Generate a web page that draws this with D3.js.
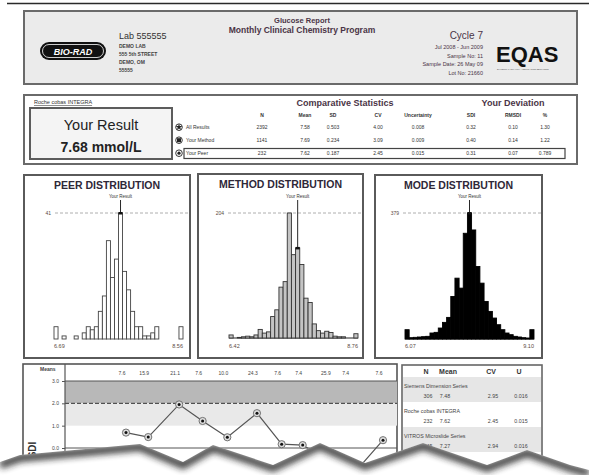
<!DOCTYPE html>
<html>
<head>
<meta charset="utf-8">
<script src="https://cdn.jsdelivr.net/npm/d3@7"></script>
<style>
body { margin: 0; background: #fff; }
svg { display: block; font-family: "Liberation Sans", Arial, sans-serif; }
</style>
</head>
<body>
<svg id="page" width="589" height="475"></svg>
<script>
// header texts
var labLines = ["DEMO LAB", "555 5th STREET", "DEMO, OM", "55555"];
var cycleLines = ["Jul 2008 - Jun 2009", "Sample No: 11", "Sample Date: 26 May 09", "Lot No: 21660"];

// comparative statistics
var statCols = ["N", "Mean", "SD", "CV", "Uncertainty", "SDI", "RMSDI", "%"];
var statRows = ["All Results", "Your Method", "Your Peer"];
var statValues = [
    ["2392", "7.58", "0.503", "4.00", "0.008", "0.32", "0.10", "1.30"],
    ["1141", "7.69", "0.234", "3.09", "0.009", "0.40", "0.14", "1.22"],
    ["232", "7.62", "0.187", "2.45", "0.015", "0.31", "0.07", "0.789"]
];

// histograms (counts per bin, first / last bins are the outlier bins)
var peerCounts = [4, 0, 1, 0, 0, 1, 0, 2, 4, 3, 4, 9, 14, 32, 20, 26, 41, 22, 16, 9, 4, 4, 1, 1, 2, 4, 0, 0, 0, 0, 0, 4];
var peerLimits = ["6.69", "8.56"];
var peerResultBin = 16;
var methodCounts = [5, 0, 1, 2, 3, 2, 5, 14, 8, 10, 35, 46, 83, 92, 204, 136, 147, 120, 65, 58, 23, 12, 8, 11, 9, 3, 2, 2, 0, 0, 7];
var methodLimits = ["6.42", "8.76"];
var methodResultBin = 16;
var modeCounts = [28, 4, 5, 6, 7, 8, 18, 20, 33, 50, 65, 128, 183, 153, 318, 379, 328, 218, 168, 113, 83, 63, 43, 28, 18, 13, 8, 6, 4, 3, 28];
var modeLimits = ["6.07", "9.10"];
var modeResultBin = 15;

// SDI history
var sampleDays = [0, 9, 21.5, 31, 41, 53, 63, 71.5, 82.5, 90.5, 104];
var sampleSdi = [0.69, 0.49, 1.95, 1.21, 0.48, 1.56, 0.17, 0.13, -0.6, -1.35, 0.35];
var sampleMeans = ["7.6", "15.9", "21.1", "7.6", "10.0", "24.3", "7.6", "7.4", "25.9", "7.4", "7.6"];

// peer group table
var groupNames = ["Siemens Dimension Series", "Roche cobas INTEGRA", "VITROS Microslide Series"];
var groupCols = ["N", "Mean", "CV", "U"];
var groupValues = [
    ["306", "7.48", "2.95", "0.016"],
    ["232", "7.62", "2.45", "0.015"],
    ["245", "7.27", "2.94", "0.016"]
];

var svg = d3.select("#page");
var ink = "#4a3446";

svg.append("rect").attr("width", 589).attr("height", 475).attr("fill", "#fff");
svg.append("line").attr("x1", 7).attr("x2", 589).attr("y1", 3.5).attr("y2", 3.5)
    .attr("stroke", "#2a2a2a").attr("stroke-width", 1.6);

// ---------- header ----------
var head = svg.append("g");
head.append("rect").attr("x", 24).attr("y", 11).attr("width", 553).attr("height", 73)
    .attr("fill", "#ebebeb").attr("stroke", "#6a6a6a").attr("stroke-width", 2);
head.append("rect").attr("x", 40).attr("y", 42).attr("width", 66).attr("height", 18).attr("rx", 9).attr("fill", "#111");
head.append("rect").attr("x", 42.5).attr("y", 44.5).attr("width", 61).attr("height", 13).attr("rx", 6.5)
    .attr("fill", "none").attr("stroke", "#fff").attr("stroke-width", 0.8);
head.append("text").attr("x", 73).attr("y", 54.5).attr("text-anchor", "middle").attr("fill", "#fff")
    .attr("font-size", 9).attr("font-weight", "bold").attr("font-style", "italic").text("BIO-RAD");

head.append("text").attr("x", 119).attr("y", 39).attr("font-size", 9).attr("fill", "#333").text("Lab 555555");
head.selectAll("text.lab").data(labLines).join("text").attr("class", "lab")
    .attr("x", 119).attr("y", function (d, i) { return 48 + i * 8; })
    .attr("font-size", 5).attr("font-weight", "bold").attr("fill", "#444").text(function (d) { return d; });

head.append("text").attr("x", 302).attr("y", 23).attr("text-anchor", "middle").attr("font-size", 7.5)
    .attr("font-weight", "bold").attr("fill", ink).text("Glucose Report");
head.append("text").attr("x", 302).attr("y", 33).attr("text-anchor", "middle").attr("font-size", 8.5)
    .attr("font-weight", "bold").attr("fill", ink).text("Monthly Clinical Chemistry Program");

head.append("text").attr("x", 483).attr("y", 39).attr("text-anchor", "end").attr("font-size", 10).attr("fill", ink).text("Cycle 7");
head.selectAll("text.cyc").data(cycleLines).join("text").attr("class", "cyc")
    .attr("x", 483).attr("y", function (d, i) { return 49 + i * 8.5; }).attr("text-anchor", "end")
    .attr("font-size", 5.5).attr("fill", ink).text(function (d) { return d; });

head.append("text").attr("x", 496).attr("y", 62).attr("font-size", 22).attr("font-weight", "bold")
    .attr("fill", "#111").text("EQAS");
head.append("text").attr("x", 497).attr("y", 69.5).attr("font-size", 2.4).attr("fill", "#555")
    .text("EXTERNAL QUALITY ASSURANCE SERVICES");

// ---------- comparative statistics ----------
var stat = svg.append("g");
stat.append("rect").attr("x", 24).attr("y", 95).attr("width", 553).attr("height", 69)
    .attr("fill", "#fff").attr("stroke", "#6a6a6a").attr("stroke-width", 2);
stat.append("text").attr("x", 34).attr("y", 104).attr("font-size", 5.5).attr("fill", "#333")
    .attr("text-decoration", "underline").text("Roche cobas INTEGRA");
stat.append("rect").attr("x", 30).attr("y", 108).attr("width", 142).attr("height", 51)
    .attr("fill", "#f4f4f4").attr("stroke", "#5c5c5c").attr("stroke-width", 2);
stat.append("text").attr("x", 101).attr("y", 130).attr("text-anchor", "middle").attr("font-size", 14.5)
    .attr("fill", "#222").text("Your Result");
stat.append("text").attr("x", 101).attr("y", 152).attr("text-anchor", "middle").attr("font-size", 14)
    .attr("font-weight", "bold").attr("fill", "#222").text("7.68 mmol/L");

stat.append("text").attr("x", 345).attr("y", 106).attr("text-anchor", "middle").attr("font-size", 9)
    .attr("font-weight", "bold").attr("fill", ink).text("Comparative Statistics");
stat.append("text").attr("x", 513).attr("y", 106).attr("text-anchor", "middle").attr("font-size", 9)
    .attr("font-weight", "bold").attr("fill", ink).text("Your Deviation");

var colX = d3.scaleOrdinal().domain(statCols).range([262, 305, 333, 378, 418, 471, 513, 545]);
var rowY = d3.scalePoint().domain(statRows).range([129, 155]);

stat.selectAll("text.col").data(statCols).join("text").attr("class", "col")
    .attr("x", function (d) { return colX(d); }).attr("y", 117).attr("text-anchor", "middle")
    .attr("font-size", 5).attr("font-weight", "bold").attr("fill", "#333").text(function (d) { return d; });

stat.append("rect").attr("x", 184).attr("y", rowY("Your Peer") - 6.5).attr("width", 381).attr("height", 10)
    .attr("fill", "none").attr("stroke", "#444").attr("stroke-width", 1.2);

statRows.forEach(function (r, i) {
    var y = rowY(r);
    stat.append("circle").attr("cx", 179).attr("cy", y - 1.8).attr("r", 3.3)
        .attr("fill", "#fff").attr("stroke", "#222").attr("stroke-width", 0.9);
    if (i === 0) {
        stat.append("path").attr("d", d3.symbol(d3.symbolStar, 14)()).attr("transform", "translate(179," + (y - 1.8) + ")").attr("fill", "#222");
    } else if (i === 1) {
        stat.append("rect").attr("x", 177).attr("y", y - 3.8).attr("width", 4).attr("height", 4).attr("fill", "#222");
    } else {
        stat.append("circle").attr("cx", 179).attr("cy", y - 1.8).attr("r", 1.6).attr("fill", "#222");
    }
    stat.append("text").attr("x", 186).attr("y", y).attr("font-size", 5).attr("fill", "#333").text(r);
    stat.selectAll("text.v" + i).data(statValues[i]).join("text").attr("class", "v" + i)
        .attr("x", function (d, j) { return colX(statCols[j]); }).attr("y", y).attr("text-anchor", "middle")
        .attr("font-size", 5).attr("fill", "#333").text(function (d) { return d; });
});

// ---------- distributions ----------
function histogram(p) {
    var g = svg.append("g");
    g.append("rect").attr("x", p.box[0]).attr("y", p.box[1]).attr("width", p.box[2] - p.box[0]).attr("height", p.box[3] - p.box[1])
        .attr("fill", "#fff").attr("stroke", "#5a5a5a").attr("stroke-width", 2);
    g.append("text").attr("x", (p.box[0] + p.box[2]) / 2).attr("y", p.box[1] + 14).attr("text-anchor", "middle")
        .attr("font-size", 10.5).attr("font-weight", "bold").attr("fill", "#2e2838").text(p.title);

    var x = d3.scaleBand().domain(d3.range(p.counts.length)).range(p.xr);
    var ymax = d3.max(p.counts);
    var y = d3.scaleLinear().domain([0, ymax]).range([p.base, 213]);

    g.append("line").attr("x1", p.dash[0]).attr("x2", p.dash[1]).attr("y1", y(ymax)).attr("y2", y(ymax))
        .attr("stroke", "#999").attr("stroke-width", 0.8).attr("stroke-dasharray", "3,2");
    g.append("text").attr("x", p.dash[0] - 4).attr("y", y(ymax) + 2).attr("text-anchor", "end")
        .attr("font-size", 5).attr("fill", "#5a4a40").text(ymax);

    if (p.baseline) {
        g.append("line").attr("x1", p.xr[0]).attr("x2", p.xr[1]).attr("y1", p.base).attr("y2", p.base)
            .attr("stroke", "#222").attr("stroke-width", 1);
    }
    g.selectAll("rect.bar").data(p.counts.map(function (c, i) { return {i: i, c: c}; }).filter(function (d) { return d.c > 0; }))
        .join("rect").attr("class", "bar")
        .attr("x", function (d) { return x(d.i); }).attr("width", x.bandwidth())
        .attr("y", function (d) { return y(d.c); }).attr("height", function (d) { return p.base - y(d.c); })
        .attr("fill", p.fill).attr("stroke", p.stroke).attr("stroke-width", 0.9);

    var rx = x(p.result) + x.bandwidth() / 2;
    g.append("text").attr("x", rx).attr("y", 198).attr("text-anchor", "middle").attr("font-size", 4.5)
        .attr("fill", "#333").text("Your Result");
    g.append("line").attr("x1", rx).attr("x2", rx).attr("y1", 200).attr("y2", y(p.counts[p.result]))
        .attr("stroke", "#111").attr("stroke-width", 0.9);
    g.append("rect").attr("x", x(p.result)).attr("y", y(p.counts[p.result]) - 1).attr("width", x.bandwidth()).attr("height", 2.5)
        .attr("fill", "#111");

    g.append("text").attr("x", p.xr[0]).attr("y", 348).attr("font-size", 5.5).attr("fill", "#5a4a40").text(p.limits[0]);
    g.append("text").attr("x", p.xr[1]).attr("y", 348).attr("text-anchor", "end").attr("font-size", 5.5).attr("fill", "#5a4a40").text(p.limits[1]);
}

histogram({title: "PEER DISTRIBUTION", box: [24, 175, 190, 358], xr: [54, 183], base: 339, dash: [55, 188],
    counts: peerCounts, limits: peerLimits, result: peerResultBin, fill: "#fff", stroke: "#444", baseline: false});
histogram({title: "METHOD DISTRIBUTION", box: [198, 174, 363, 358], xr: [229, 358], base: 338, dash: [228, 362],
    counts: methodCounts, limits: methodLimits, result: methodResultBin, fill: "#c4c4c4", stroke: "#333", baseline: true});
histogram({title: "MODE DISTRIBUTION", box: [375, 175, 542, 358], xr: [405, 534], base: 339, dash: [403, 541],
    counts: modeCounts, limits: modeLimits, result: modeResultBin, fill: "#000", stroke: "#000", baseline: true});

// ---------- SDI history ----------
var hist = svg.append("g");
hist.append("rect").attr("x", 23).attr("y", 364).attr("width", 374).attr("height", 130)
    .attr("fill", "#fff").attr("stroke", "#555").attr("stroke-width", 1.6);
var sx = d3.scaleLinear().domain(d3.extent(sampleDays)).range([126, 383]);
var sy = d3.scaleLinear().domain([0, 3]).range([448, 381]);

hist.append("rect").attr("x", 65).attr("y", sy(3)).attr("width", 332).attr("height", sy(2) - sy(3)).attr("fill", "#b8b8b8");
hist.append("rect").attr("x", 65).attr("y", sy(2)).attr("width", 332).attr("height", sy(1) - sy(2)).attr("fill", "#e9e9e9");
[3, 0].forEach(function (v) {
    hist.append("line").attr("x1", 65).attr("x2", 397).attr("y1", sy(v)).attr("y2", sy(v)).attr("stroke", "#555").attr("stroke-width", 1);
});
hist.append("line").attr("x1", 65).attr("x2", 397).attr("y1", sy(2)).attr("y2", sy(2))
    .attr("stroke", "#333").attr("stroke-width", 1).attr("stroke-dasharray", "4,2");
hist.append("line").attr("x1", 65).attr("x2", 65).attr("y1", 364).attr("y2", 494).attr("stroke", "#555").attr("stroke-width", 1.2);

var yAxis = hist.append("g").attr("transform", "translate(65,0)")
    .call(d3.axisLeft(sy).tickValues([0, 1, 2, 3]).tickFormat(d3.format(".1f")).tickSize(3));
yAxis.select(".domain").remove();
yAxis.selectAll("text").attr("font-size", 5).attr("fill", "#444").attr("font-family", "Liberation Sans, Arial, sans-serif");
yAxis.selectAll("line").attr("stroke", "#555");

hist.append("text").attr("x", 40).attr("y", 371).attr("font-size", 5).attr("font-weight", "bold").attr("fill", "#444").text("Means");
hist.selectAll("text.mean").data(sampleMeans).join("text").attr("class", "mean")
    .attr("x", function (d, i) { return sx(sampleDays[i]) - 4; }).attr("y", 375).attr("text-anchor", "middle")
    .attr("font-size", 5).attr("fill", "#444").text(function (d) { return d; });
hist.append("text").attr("x", 36).attr("y", 450).attr("transform", "rotate(-90,36,450)").attr("text-anchor", "middle")
    .attr("font-size", 10).attr("font-weight", "bold").attr("fill", "#333").text("SDI");

var sdiLine = d3.line().x(function (d, i) { return sx(sampleDays[i]); }).y(function (d) { return sy(d); });
hist.append("path").attr("d", sdiLine(sampleSdi)).attr("fill", "none").attr("stroke", "#555").attr("stroke-width", 1.2);
hist.selectAll("circle.pt").data(sampleSdi).join("circle").attr("class", "pt")
    .attr("cx", function (d, i) { return sx(sampleDays[i]); }).attr("cy", function (d) { return sy(d); })
    .attr("r", 3.6).attr("fill", "#ddd").attr("stroke", "#666").attr("stroke-width", 0.9);
hist.selectAll("circle.dot").data(sampleSdi).join("circle").attr("class", "dot")
    .attr("cx", function (d, i) { return sx(sampleDays[i]); }).attr("cy", function (d) { return sy(d); })
    .attr("r", 1.5).attr("fill", "#111");

// ---------- peer group table ----------
var grp = svg.append("g");
grp.append("rect").attr("x", 402).attr("y", 365).attr("width", 140).attr("height", 130)
    .attr("fill", "#fff").attr("stroke", "#666").attr("stroke-width", 1.6);
var gx = d3.scaleOrdinal().domain(groupCols).range([426, 448, 491, 519]);
var gy = d3.scaleBand().domain(groupNames).range([377, 452]);
grp.selectAll("rect.band").data(groupNames).join("rect").attr("class", "band")
    .attr("x", 403).attr("width", 138).attr("y", function (d) { return gy(d); }).attr("height", gy.bandwidth())
    .attr("fill", function (d, i) { return i % 2 === 0 ? "#e6e6e6" : "#fff"; });
grp.selectAll("text.gh").data(groupCols).join("text").attr("class", "gh")
    .attr("x", function (d) { return gx(d); }).attr("y", 374).attr("text-anchor", "middle")
    .attr("font-size", 7).attr("font-weight", "bold").attr("fill", "#333").text(function (d) { return d; });
groupNames.forEach(function (n, i) {
    var top = gy(n);
    grp.append("text").attr("x", 404).attr("y", top + 11).attr("font-size", 5.3).attr("fill", "#444").text(n);
    grp.selectAll("text.gv" + i).data(groupValues[i]).join("text").attr("class", "gv" + i)
        .attr("x", function (d, j) { return gx(groupCols[j]) + (j === 1 ? -3 : 2); }).attr("y", top + 21).attr("text-anchor", "middle")
        .attr("font-size", 5.3).attr("fill", "#444").text(function (d) { return d; });
});

// ---------- torn paper edge ----------
var tear = [[0, 462], [20, 455], [140, 444], [183, 462], [213, 445], [273, 465], [320, 443], [365, 463],
    [423, 443], [487, 465], [527, 450], [570, 465], [589, 470]];
var lower = tear.concat([[589, 475], [0, 475]]);
var defs = svg.append("defs");
defs.append("clipPath").attr("id", "below").append("polygon").attr("points", lower.join(" "));
defs.append("filter").attr("id", "soft").attr("x", "-10%").attr("y", "-50%").attr("width", "120%").attr("height", "200%")
    .append("feGaussianBlur").attr("stdDeviation", 3);
svg.append("polygon").attr("points", lower.join(" ")).attr("fill", "#fff");
svg.append("g").attr("clip-path", "url(#below)")
    .append("path").attr("d", d3.line()(tear)).attr("transform", "translate(0,3)")
    .attr("fill", "none").attr("stroke", "#222").attr("stroke-width", 8).attr("opacity", 0.85).attr("filter", "url(#soft)");
</script>
</body>
</html>
